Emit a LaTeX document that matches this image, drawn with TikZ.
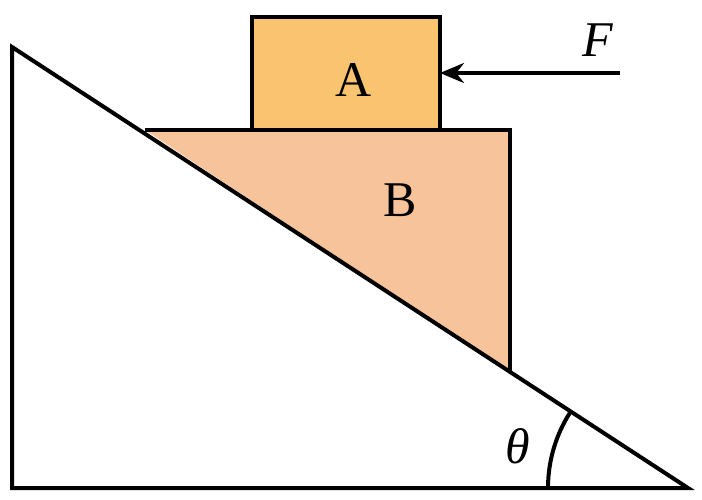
\documentclass[tikz,border=0pt]{standalone}
\usepackage{fontspec}
\setmainfont{Liberation Serif}
\usetikzlibrary{arrows.meta}
\begin{document}
\begin{tikzpicture}[x=1pt,y=-1pt,line width=4pt,line join=miter,
  lbl/.style={font=\fontsize{50}{54}\selectfont}]
\useasboundingbox (0,0) rectangle (702,500);
\coordinate (P1) at (12,47);
\coordinate (P2) at (12,488);
\coordinate (P3) at (688,488);
\fill[fill={rgb,255:red,247;green,195;blue,154}] (145,130) -- (510,130) -- (510,372) -- cycle;
\draw (145,130) -- (510,130) -- (510,372);
\draw (P1) -- (P2) -- (P3) -- cycle;
\draw[fill={rgb,255:red,249;green,195;blue,111}] (252,17) rectangle (440,130);
\node[lbl] (A) at (354,80) {A};
\node[lbl] (B) at (400,200) {B};
\coordinate (Aedge) at (440,73);
\coordinate (Fs) at (620,73);
\draw[line width=3.5pt,-{Stealth[length=24pt,width=20pt]}] (Fs) -- (Aedge);
\node[lbl] (F) at (598,40) {\textit{F}};
\draw (548,488) arc[start angle=180,end angle=213.1,radius=140];
\node[lbl] (th) at (518,446) {\textit{θ}};
\end{tikzpicture}
\end{document}
